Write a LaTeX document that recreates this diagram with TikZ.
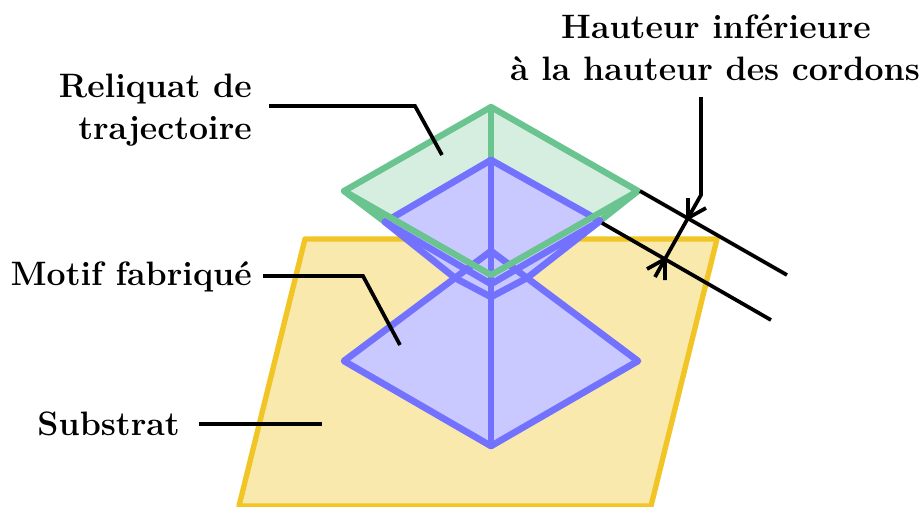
\documentclass[tikz,border=0pt]{standalone}
\usepackage{tikz}
\usepackage{xcolor}
\definecolor{SubYellow}{HTML}{F0C525}
\definecolor{MotifBlue}{HTML}{7272FF}
\definecolor{ResteGreen}{HTML}{69C48F}

\begin{document}
\begin{tikzpicture}[
    x=0.75pt,y=-0.75pt,
    substrat/.style={draw=SubYellow,line width=4pt,fill=SubYellow!38,line join=round},
    motif/.style={draw=MotifBlue,line width=5pt,line join=round,line cap=round},
    motiffill/.style={fill=MotifBlue!38},
    reste/.style={draw=ResteGreen,line width=4.7pt,line join=round,line cap=round},
    restefill/.style={fill=ResteGreen!28},
    leader/.style={draw=black,line width=2.8pt},
    label/.style={font=\fontsize{25.4}{30}\selectfont\bfseries,inner sep=0pt}
  ]
    \useasboundingbox (0,0) rectangle (922,507);

    % substrat
    \draw[substrat] (305,239) -- (717,239) -- (651,506) -- (239,506) -- cycle;

    % motif du bas
    \fill[motiffill] (491,251) -- (638,361) -- (491,446) -- (344,361) -- cycle;
    \draw[motif] (491,251) -- (638,361) -- (491,446) -- (344,361) -- cycle;
    \draw[motif] (491,251) -- (491,446);

    % reliquat
    \fill[restefill] (491,107) -- (638,191) -- (491,275) -- (344,191) -- cycle;
    \draw[reste] (491,107) -- (491,160);
    \draw[reste] (344,191) -- (385,222);
    \draw[reste] (638,191) -- (600,221);

    % motif du haut
    \fill[motiffill] (491,160) -- (600,221) -- (527,278) -- (491,297) -- (455,278) -- (385,222) -- cycle;
    \draw[motif] (385,222) -- (491,160) -- (600,221);
    \draw[motif] (385,222) -- (455,278) -- (491,297) -- (527,278) -- (600,221);
    \draw[motif] (385,222) -- (491,284) -- (600,221);
    \draw[motif] (491,160) -- (491,297);
    \draw[motif] (455,278) -- (491,251) -- (527,278);

    \draw[reste] (344,191) -- (491,107) -- (638,191) -- (491,275) -- cycle;

    % textes
    \node[label,anchor=base east] (reliquat1) at (252,97) {Reliquat de};
    \node[label,anchor=base east] (reliquat2) at (252,139) {trajectoire};
    \node[label,anchor=base east] (motiflbl) at (252,285) {Motif fabriqué};
    \node[label,anchor=base east] (substratlbl) at (180,435) {Substrat};
    \node[label,anchor=base] (hauteur1) at (716,38) {Hauteur inférieure};
    \node[label,anchor=base] (hauteur2) at (715,80) {à la hauteur des cordons};

    % renvois
    \coordinate (reliquatend) at (442,155);
    \coordinate (motifend) at (400,345);
    \coordinate (substratend) at (322,424);
    \coordinate (hautA) at (688,218);
    \coordinate (hautB) at (665,259);
    \draw[leader] (269,106) -- (415,106) -- (reliquatend);
    \draw[leader] (263,276) -- (363,276) -- (motifend);
    \draw[leader] (199,424) -- (substratend);
    \draw[leader] (640,191) -- (787,275);
    \draw[leader] (602,223) -- (771,320);
    \draw[leader] (701,97) -- (701,195) -- (hautA);
    \draw[leader] (hautA) -- (hautB);
    \draw[leader] (688,198) -- (hautA) -- (706,208);
    \draw[leader] (665,280) -- (hautB) -- (647,269);
    \draw[leader] (655,277) -- (hautB);
  \end{tikzpicture}
\end{document}
